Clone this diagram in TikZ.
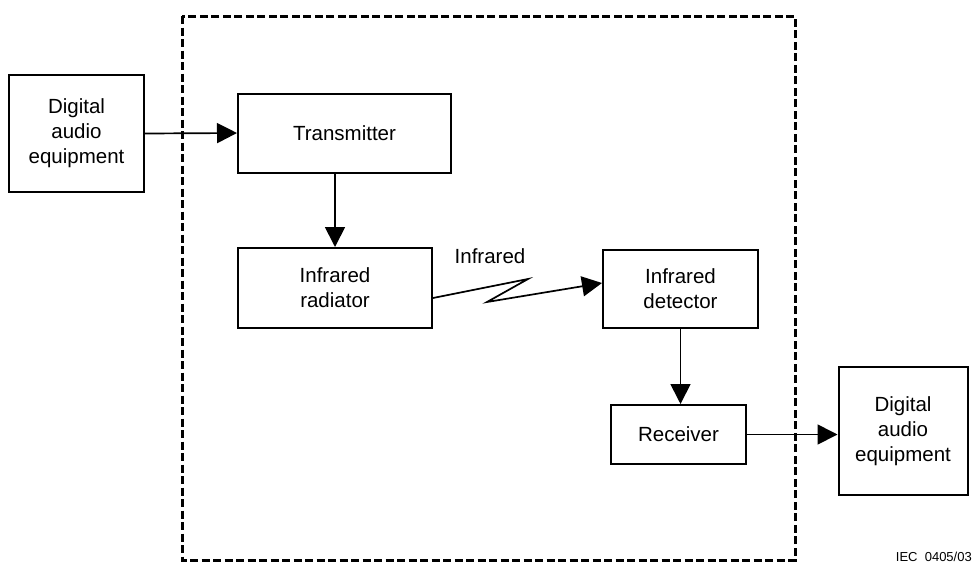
\documentclass[tikz,border=0pt]{standalone}
\usepackage{fontspec}
\setmainfont{Liberation Sans}
\usetikzlibrary{arrows.meta}
\tikzset{
  caja/.style={draw, line width=2pt, align=center, inner sep=0pt, font=\fontsize{20.5}{25}\selectfont},
  flecha/.style={line width=1.7pt, -{Triangle[length=20pt,width=20pt]}},
}
\begin{document}
\begin{tikzpicture}[x=1pt,y=-1pt]
		\useasboundingbox (0,0) rectangle (973,563);
		
		% Marco discontinuo
		\draw[line width=3pt, dash pattern=on 8pt off 3.5pt] (182,16) rectangle (795,560);
		
		% Cajas
		\node[caja, minimum width=135pt, minimum height=117pt] (dae1) at (76.5,133.5) {Digital\\audio\\equipment};
		\node[caja, minimum width=213pt, minimum height=79pt] (tx) at (344.5,133) {Transmitter};
		\node[caja, minimum width=194pt, minimum height=80pt] (rad) at (335,288) {Infrared\\radiator};
		\node[caja, minimum width=155pt, minimum height=78pt] (det) at (680.5,289) {Infrared\\detector};
		\node[caja, minimum width=135pt, minimum height=59pt] (rx) at (678.5,434.5) {Receiver};
		\node[caja, minimum width=129pt, minimum height=128pt] (dae2) at (903,431) {Digital\\audio\\equipment};
		
		% Flechas
		\draw[flecha] (dae1.east) -- (tx.west);
		\draw[flecha] (rad.north |- tx.south) -- (rad.north);
		\draw[flecha] (det.south) -- (det.south |- rx.north);
		\draw[flecha] (rx.east) -- (rx.east -| dae2.west);
		
		% Enlace infrarrojo
		\coordinate (z1) at (528,279);
		\coordinate (z2) at (487,302);
		\draw[flecha] ([yshift=-10pt]rad.east) -- (z1) -- (z2) -- ([yshift=6pt]det.west);
		\node[font=\fontsize{20.5}{25}\selectfont] (ir) at (490,256) {Infrared};
		
		% Referencia
		\node[anchor=south east, inner sep=0pt, font=\fontsize{13}{15}\selectfont] (ref) at (972,562) {IEC~~0405/03};
		
	\end{tikzpicture}
\end{document}
